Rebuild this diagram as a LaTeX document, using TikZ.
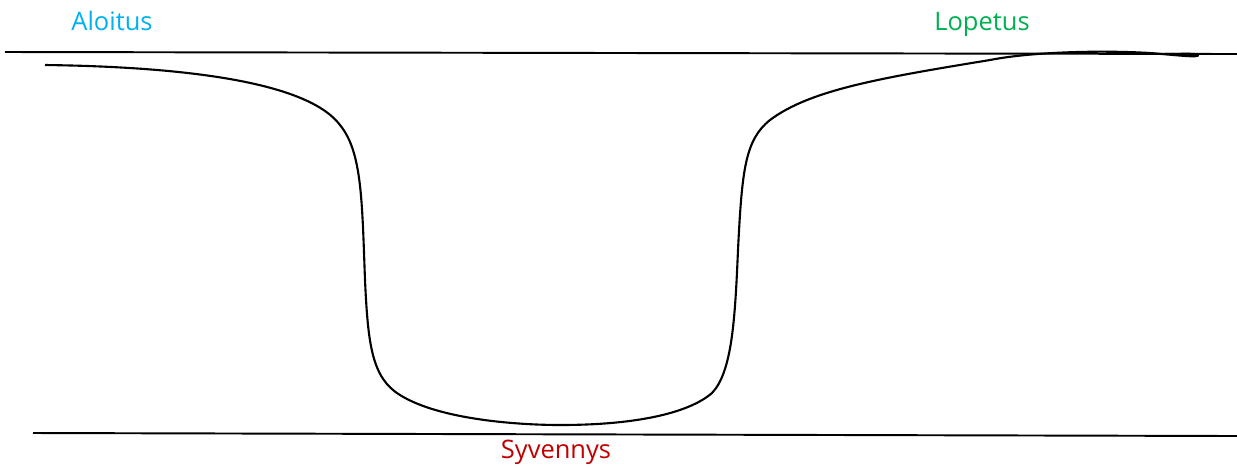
\documentclass[tikz,border=0pt]{standalone}
\usepackage{fontspec}
\setmainfont{Open Sans}
\definecolor{startblue}{HTML}{00B0F0}
\definecolor{endgreen}{HTML}{00B050}
\definecolor{deepred}{HTML}{C00000}
\begin{document}
\begin{tikzpicture}[x=0.02cm,y=-0.02cm,
  lbl/.style={font=\fontsize{14.5}{16}\selectfont, inner sep=0pt, anchor=base},
  rule/.style={line width=1.1pt, black},
  curve/.style={line width=1.2pt, black}]
\useasboundingbox (0,0) rectangle (1237,468);
% labels
\node[lbl, text=startblue] (start) at (112,30) {Aloitus};
\node[lbl, text=endgreen] (stop) at (982,30) {Lopetus};
\node[lbl, text=deepred] (depth) at (556,458) {Syvennys};
% reference lines
\coordinate (t1) at (5,52);
\coordinate (t2) at (1237,54);
\coordinate (b1) at (33,433);
\coordinate (b2) at (1237,436);
\draw[rule] (t1) -- (t2);
\draw[rule] (b1) -- (b2);
% dive profile
\draw[curve] (45,65)
  .. controls (200,67) and (310,85) .. (340,125)
  .. controls (362,152) and (362,200) .. (365,280)
  .. controls (368,345) and (372,378) .. (400,395)
  .. controls (440,420) and (520,425) .. (560,425)
  .. controls (640,425) and (690,412) .. (712,393)
  .. controls (732,372) and (735,320) .. (738,250)
  .. controls (742,170) and (745,140) .. (770,120)
  .. controls (810,90) and (880,78) .. (990,60)
  .. controls (1030,52) and (1100,50) .. (1150,53)
  .. controls (1175,55) and (1200,58) .. (1198,55)
  .. controls (1196,53) and (1180,54) .. (1165,54);
\end{tikzpicture}
\end{document}
